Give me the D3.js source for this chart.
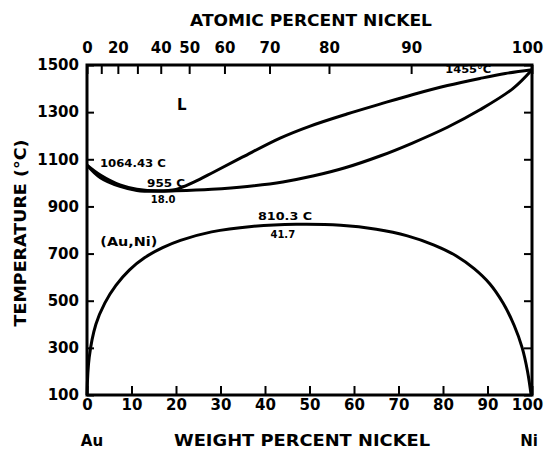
<!DOCTYPE html>
<html>
<head>
<meta charset="utf-8">
<script src="https://cdn.jsdelivr.net/npm/d3@7"></script>
<style>
body{margin:0;background:#fff}
svg text{font-family:"DejaVu Sans",sans-serif;font-weight:bold;fill:#000}
</style>
</head>
<body>
<svg width="546" height="453"></svg>
<script>
// axis ticks
const wtTicks=[0,10,20,30,40,50,60,70,80,90,100];
const atTicks=[0,10,20,30,40,50,60,70,80,90,100];
const atLabels=["0","","20","","40","50","60","70","80","90","100"];
const tempTicks=[100,300,500,700,900,1100,1300,1500];

// liquidus, solidus and (Au,Ni) miscibility gap, weight % Ni vs temperature
const liqWt=[0,3,7.4,11.2,16,20,24,28.4,35,43.4,50,58.4,66,73.3,81,88.3,94,100];
const liqT=[1075,1033,991,973,966,972,1003,1045,1110,1190,1240,1292,1335,1375,1413,1443,1464,1480];
const solWt=[0,3,7.4,11.2,16,20,28,36,44,51,58,66,73,81,88.3,95.7,100];
const solT=[1075,1022,985,968,964,966,973,985,1004,1030,1064,1115,1168,1236,1310,1400,1480];
const gapWt=[0,0.5,2,4,6.5,9.5,13,17,21,28,37,47,57,65,72,78,83,87,90.5,93.5,96,97.8,99,99.8];
const gapT=[100,260,400,490,565,630,683,725,756,792,815,824,820,803,775,736,690,636,572,490,395,300,200,100];

const labels=[
  {t:"L",wt:21.3,T:1309,size:15,anchor:"middle"},
  {t:"1064.43 C",wt:2.9,T:1067,size:10,anchor:"start",len:66},
  {t:"955 C",wt:13.5,T:982,size:10,anchor:"start",len:38},
  {t:"18.0",wt:17.1,T:915,size:10,anchor:"middle"},
  {t:"(Au,Ni)",wt:3,T:732,size:13,anchor:"start",len:57},
  {t:"810.3 C",wt:44.5,T:842,size:10,anchor:"middle",len:54},
  {t:"41.7",wt:44,T:766,size:10,anchor:"middle"},
  {t:"1455°C",wt:80.5,T:1466,size:10,anchor:"start",len:46}
];

const atToWt=a=>100*a*58.69/(a*58.69+(100-a)*196.97);

const svg=d3.select("svg");
const x=d3.scaleLinear().domain([0,100]).range([87,532]);
const y=d3.scaleLinear().domain([100,1500]).range([395,65]);

const gBottom=svg.append("g").attr("transform","translate(0,395)")
  .call(d3.axisBottom(x).tickValues(wtTicks).tickFormat(d=>d).tickSize(-9).tickSizeOuter(0).tickPadding(4));
const gTop=svg.append("g").attr("transform","translate(0,65)")
  .call(d3.axisTop(x).tickValues(atTicks.map(atToWt)).tickFormat((d,i)=>atLabels[i]).tickSize(-9).tickSizeOuter(0).tickPadding(12));
const gLeft=svg.append("g").attr("transform","translate(87,0)")
  .call(d3.axisLeft(y).tickValues(tempTicks).tickFormat(d=>d).tickSize(-7).tickSizeOuter(0).tickPadding(8));
const gRight=svg.append("g").attr("transform","translate(532,0)")
  .call(d3.axisRight(y).tickValues(tempTicks).tickFormat("").tickSize(-8).tickSizeOuter(0));

[gBottom,gTop,gLeft,gRight].forEach(g=>{
  g.select(".domain").remove();
  g.selectAll(".tick line").attr("stroke","#000").attr("stroke-width",2);
  g.selectAll(".tick text").style("font-size","15px").attr("fill","#000");
});
// keep the "100" labels inside the picture
[gBottom,gTop].forEach(g=>g.selectAll(".tick:last-of-type text").attr("dx",-5));

svg.append("rect").attr("x",87).attr("y",65).attr("width",445).attr("height",330)
  .attr("fill","none").attr("stroke","#000").attr("stroke-width",3);

const line=d3.line().x(d=>x(d[0])).y(d=>y(d[1])).curve(d3.curveCatmullRom.alpha(0.5));
[[liqWt,liqT],[solWt,solT],[gapWt,gapT]].forEach(([w,t])=>{
  svg.append("path").datum(w.map((v,i)=>[v,t[i]]))
    .attr("d",line).attr("fill","none").attr("stroke","#000")
    .attr("stroke-width",3).attr("stroke-linejoin","round");
});

labels.forEach(l=>{
  const tx=svg.append("text").attr("x",x(l.wt)).attr("y",y(l.T))
    .attr("text-anchor",l.anchor).style("font-size",l.size+"px").text(l.t);
  if(l.len) tx.attr("textLength",l.len).attr("lengthAdjust","spacingAndGlyphs");
});

svg.append("text").attr("x",311).attr("y",26).attr("text-anchor","middle")
  .style("font-size","16px").attr("textLength",242).attr("lengthAdjust","spacingAndGlyphs")
  .text("ATOMIC PERCENT NICKEL");
svg.append("text").attr("x",302).attr("y",446).attr("text-anchor","middle")
  .style("font-size","16px").attr("textLength",256).attr("lengthAdjust","spacingAndGlyphs")
  .text("WEIGHT PERCENT NICKEL");
svg.append("text").attr("x",92).attr("y",446).attr("text-anchor","middle")
  .style("font-size","15px").text("Au");
svg.append("text").attr("x",529).attr("y",446).attr("text-anchor","middle")
  .style("font-size","15px").text("Ni");
svg.append("text").attr("transform","translate(26,233) rotate(-90)").attr("text-anchor","middle")
  .style("font-size","16px").attr("textLength",187).attr("lengthAdjust","spacingAndGlyphs")
  .text("TEMPERATURE (°C)");
</script>
</body>
</html>
